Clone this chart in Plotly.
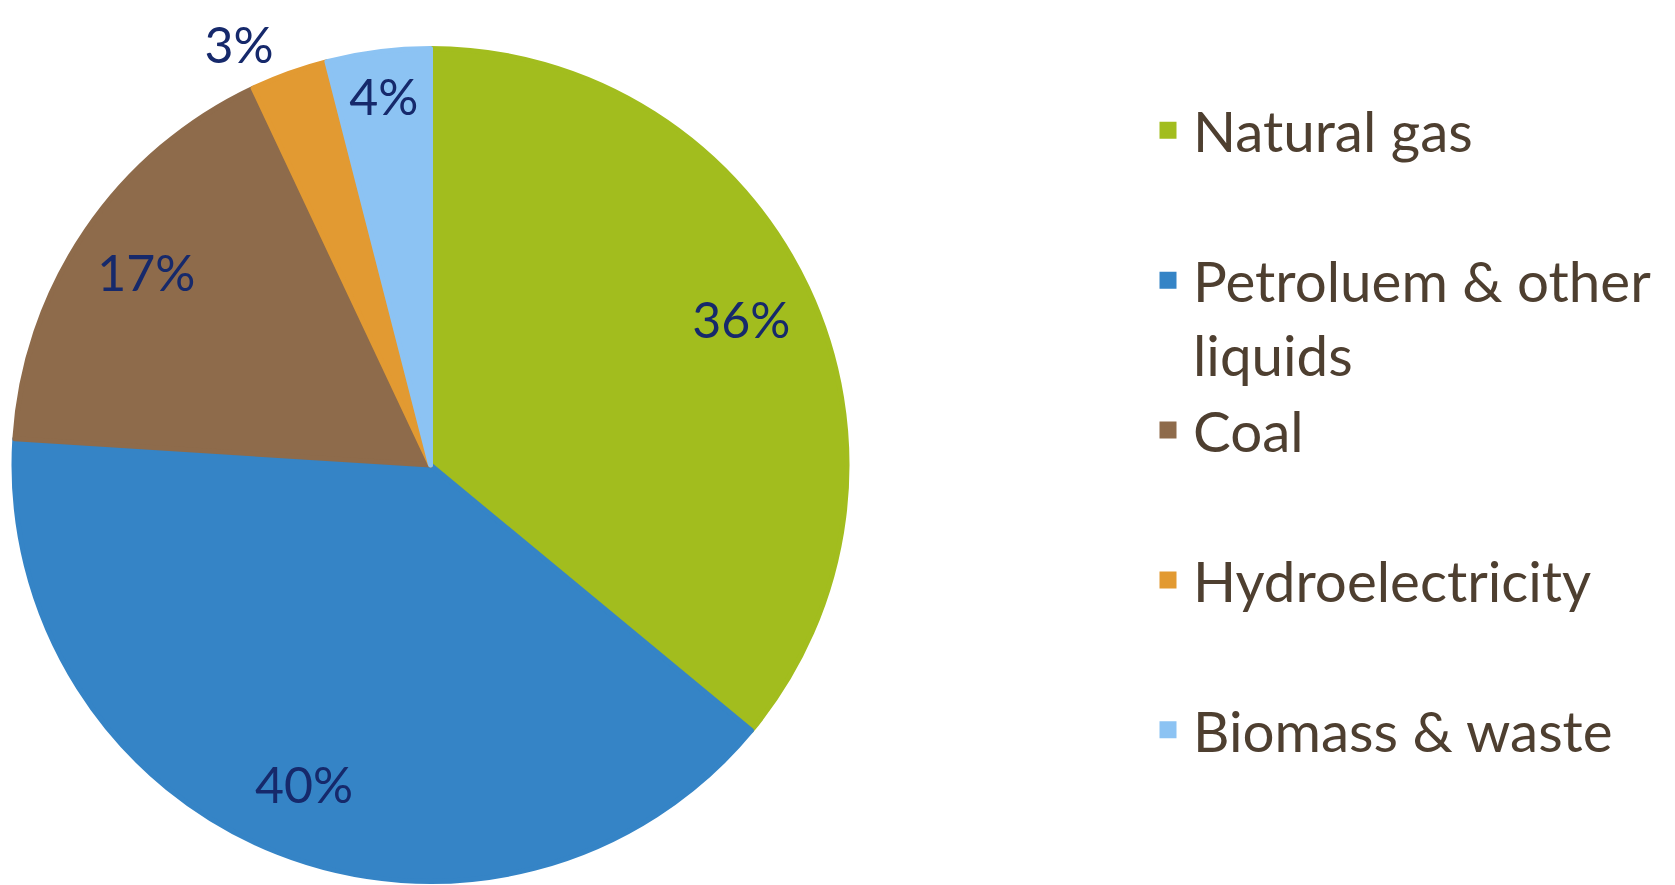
import plotly.graph_objects as go

categories = ["Natural gas", "Petroluem & other<br>liquids", "Coal", "Hydroelectricity", "Biomass & waste"]
shares = [36, 40, 17, 3, 4]
colors = ["#A2BD1E", "#3584C6", "#8E6B4B", "#E29A32", "#8CC3F3"]
label_pos = ["inside", "inside", "inside", "outside", "inside"]

# legend entries padded to two lines each so items are evenly spaced
legend_labels = [c if "<br>" in c else c + "<br>\u00a0" for c in categories]

FONT = "Lato"
W, H = 1675, 885
BORDER = 5  # own-colour slice outline (also enlarges the legend swatches)
inner = dict(x=[(11 + BORDER / 2) / W, (850 - BORDER / 2) / W],
             y=[(1 + BORDER / 2) / H, 1 - (46 + BORDER / 2) / H])
outer = dict(x=[11 / W, 850 / W], y=[1 / H, 1 - 46 / H])

fig = go.Figure()
fig.add_trace(go.Pie(
    labels=legend_labels, values=shares, sort=False, direction="clockwise", rotation=0,
    marker=dict(colors=colors, line=dict(color=colors, width=BORDER)),
    textinfo="none", domain=inner, showlegend=True, hoverinfo="skip",
))
fig.add_trace(go.Pie(
    labels=legend_labels, values=shares, sort=False, direction="clockwise", rotation=0,
    hole=0.64,
    marker=dict(colors=["rgba(0,0,0,0)"] * len(shares), line=dict(width=0)),
    textinfo="percent", textposition=label_pos, insidetextorientation="auto",
    textfont=dict(family=FONT, size=50, color="#16296B"),
    domain=outer, showlegend=False, hoverinfo="skip",
))
fig.update_layout(
    width=W, height=H,
    margin=dict(l=0, r=0, t=0, b=0, autoexpand=False),
    paper_bgcolor="white", plot_bgcolor="white",
    uniformtext=dict(minsize=50, mode="show"),
    legend=dict(
        x=1143 / W, xanchor="left", y=1 - 87 / H, yanchor="top",
        font=dict(family=FONT, size=56.5, color="#4E3F30"),
        valign="top", bgcolor="rgba(0,0,0,0)", itemwidth=40,
    ),
)
fig.write_html("out.html", config={"displayModeBar": False},
               post_script="document.body.style.margin='0';")
